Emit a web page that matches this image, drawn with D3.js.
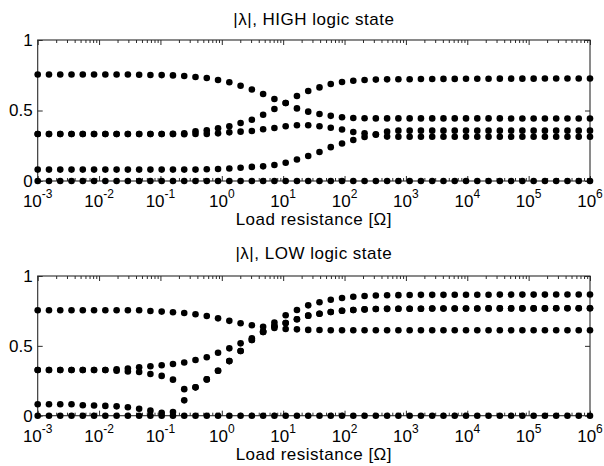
<!DOCTYPE html>
<html>
<head>
<meta charset="utf-8">
<script src="https://cdn.jsdelivr.net/npm/d3@7"></script>
<style>
  body { margin: 0; background: #fff; }
  text { font-family: "Liberation Sans", Arial, Helvetica, sans-serif; fill: #000; }
</style>
</head>
<body>
<svg id="fig" width="604" height="466"></svg>
<script>
// Load resistance sweep [Ω], 50 log-spaced samples from 1 mΩ to 1 MΩ
const resistance = [
  0.001, 0.001527, 0.002330, 0.003556, 0.005429, 0.008286, 0.01265, 0.01931, 0.02947, 0.04498,
  0.06866, 0.1048, 0.1600, 0.2442, 0.3728, 0.5690, 0.8685, 1.326, 2.024, 3.089,
  4.715, 7.197, 10.99, 16.77, 25.60, 39.07, 59.64, 91.03, 138.9, 212.1,
  323.7, 494.1, 754.3, 1151, 1758, 2683, 4095, 6251, 9541, 14563,
  22230, 33932, 51795, 79060, 120679, 184207, 281177, 429193, 655129, 1000000
];

// |λ| for the HIGH logic state
const highA = [
  0.755, 0.755, 0.755, 0.755, 0.755, 0.755, 0.755, 0.755, 0.755, 0.754,
  0.752, 0.751, 0.749, 0.745, 0.738, 0.730, 0.716, 0.700, 0.676, 0.649,
  0.617, 0.582, 0.553, 0.603, 0.638, 0.664, 0.688, 0.702, 0.711, 0.716,
  0.719, 0.721, 0.722, 0.722, 0.723, 0.723, 0.724, 0.724, 0.725, 0.725,
  0.725, 0.726, 0.726, 0.726, 0.726, 0.727, 0.727, 0.727, 0.727, 0.727
];
const highB = [
  0.333, 0.333, 0.333, 0.333, 0.333, 0.333, 0.333, 0.333, 0.333, 0.333,
  0.333, 0.333, 0.334, 0.338, 0.352, 0.359, 0.374, 0.388, 0.411, 0.434,
  0.470, 0.511, 0.553, 0.515, 0.492, 0.475, 0.462, 0.452, 0.447, 0.445,
  0.444, 0.444, 0.444, 0.444, 0.444, 0.444, 0.444, 0.444, 0.444, 0.444,
  0.444, 0.444, 0.443, 0.443, 0.443, 0.443, 0.443, 0.443, 0.443, 0.443
];
const highC = [
  0.333, 0.333, 0.333, 0.333, 0.333, 0.333, 0.333, 0.333, 0.333, 0.333,
  0.333, 0.333, 0.333, 0.332, 0.333, 0.334, 0.338, 0.345, 0.350, 0.355,
  0.367, 0.376, 0.388, 0.395, 0.395, 0.388, 0.378, 0.365, 0.348, 0.338,
  0.332, 0.350, 0.357, 0.357, 0.357, 0.357, 0.357, 0.357, 0.357, 0.357,
  0.357, 0.357, 0.357, 0.357, 0.357, 0.357, 0.357, 0.357, 0.357, 0.357
];
const highD = [
  0.081, 0.081, 0.081, 0.081, 0.081, 0.081, 0.081, 0.081, 0.081, 0.081,
  0.081, 0.081, 0.081, 0.081, 0.081, 0.083, 0.085, 0.089, 0.094, 0.100,
  0.104, 0.113, 0.129, 0.152, 0.177, 0.206, 0.240, 0.266, 0.291, 0.312,
  0.328, 0.315, 0.314, 0.314, 0.314, 0.314, 0.314, 0.314, 0.314, 0.314,
  0.314, 0.314, 0.314, 0.314, 0.314, 0.314, 0.314, 0.314, 0.314, 0.314
];
const highZero = [
  0, 0, 0, 0, 0, 0, 0, 0, 0, 0,
  0, 0, 0, 0, 0, 0, 0, 0, 0, 0,
  0, 0, 0, 0, 0, 0, 0, 0, 0, 0,
  0, 0, 0, 0, 0, 0, 0, 0, 0, 0,
  0, 0, 0, 0, 0, 0, 0, 0, 0, 0
];

// |λ| for the LOW logic state
const lowA = [
  0.755, 0.755, 0.755, 0.755, 0.755, 0.755, 0.755, 0.755, 0.755, 0.755,
  0.750, 0.745, 0.740, 0.735, 0.726, 0.714, 0.697, 0.679, 0.662, 0.647,
  0.637, 0.628, 0.621, 0.618, 0.614, 0.613, 0.612, 0.612, 0.612, 0.612,
  0.612, 0.612, 0.612, 0.612, 0.612, 0.612, 0.612, 0.612, 0.612, 0.612,
  0.612, 0.612, 0.612, 0.612, 0.612, 0.612, 0.612, 0.612, 0.612, 0.612
];
const lowB = [
  0.327, 0.327, 0.327, 0.327, 0.327, 0.327, 0.327, 0.333, 0.337, 0.346,
  0.354, 0.361, 0.370, 0.381, 0.399, 0.418, 0.451, 0.482, 0.518, 0.554,
  0.603, 0.666, 0.719, 0.757, 0.790, 0.812, 0.830, 0.843, 0.852, 0.857,
  0.860, 0.862, 0.863, 0.864, 0.865, 0.865, 0.865, 0.866, 0.866, 0.866,
  0.866, 0.867, 0.867, 0.867, 0.867, 0.867, 0.868, 0.868, 0.868, 0.868
];
const lowC = [
  0.327, 0.327, 0.327, 0.327, 0.327, 0.327, 0.327, 0.322, 0.316, 0.313,
  0.298, 0.285, 0.258, 0.190, 0.203, 0.260, 0.322, 0.391, 0.463, 0.542,
  0.600, 0.640, 0.664, 0.690, 0.716, 0.730, 0.742, 0.751, 0.757, 0.761,
  0.764, 0.765, 0.766, 0.766, 0.766, 0.767, 0.767, 0.767, 0.767, 0.767,
  0.768, 0.768, 0.768, 0.768, 0.768, 0.768, 0.769, 0.769, 0.769, 0.769
];
const lowD = [
  0.082, 0.082, 0.082, 0.082, 0.075, 0.073, 0.070, 0.067, 0.060, 0.050,
  0.036, 0.020, 0.026, 0.110, 0.203, 0.260, 0.322, 0.391, 0.463, 0.542,
  0.600, 0.640, 0.664, 0.690, 0.716, 0.730, 0.742, 0.751, 0.757, 0.761,
  0.764, 0.765, 0.766, 0.766, 0.766, 0.767, 0.767, 0.767, 0.767, 0.767,
  0.768, 0.768, 0.768, 0.768, 0.768, 0.768, 0.769, 0.769, 0.769, 0.769
];
const lowZero = [
  0, 0, 0, 0, 0, 0, 0, 0, 0, 0,
  0, 0, 0, 0, 0, 0, 0, 0, 0, 0,
  0, 0, 0, 0, 0, 0, 0, 0, 0, 0,
  0, 0, 0, 0, 0, 0, 0, 0, 0, 0,
  0, 0, 0, 0, 0, 0, 0, 0, 0, 0
];

// Axis annotation
const xDomain = [1e-3, 1e6];
const xTickExponents = [-3, -2, -1, 0, 1, 2, 3, 4, 5, 6];
const yTicks = [0, 0.5, 1];
const titleHigh = "|λ|, HIGH logic state";
const titleLow = "|λ|, LOW logic state";
const xLabelText = "Load resistance [Ω]";

const panels = [
  { title: titleHigh, series: [highZero, highD, highC, highB, highA],
    top: 40, bottom: 181, titleY: 25, tickLabelY: 206.5, xLabelY: 225 },
  { title: titleLow, series: [lowZero, lowD, lowC, lowB, lowA],
    top: 276, bottom: 415.7, titleY: 259, tickLabelY: 441.5, xLabelY: 460 }
];

const left = 37.7, right = 590;
const svg = d3.select("#fig");
const x = d3.scaleLog().domain(xDomain).range([left, right]);
const allTicks = x.ticks();
const isMajor = v => Math.abs(Math.log10(v) - Math.round(Math.log10(v))) < 1e-9;
const minorTicks = allTicks.filter(v => !isMajor(v));
const majorTicks = xTickExponents.map(e => Math.pow(10, e));
const axisColor = "#2b2b2b";
const fontSize = 17;

panels.forEach(p => {
  const y = d3.scaleLinear().domain([0, 1]).range([p.bottom, p.top]);
  const g = svg.append("g");

  // frame
  g.append("rect")
    .attr("x", left).attr("y", p.top)
    .attr("width", right - left).attr("height", p.bottom - p.top)
    .attr("fill", "none").attr("stroke", axisColor).attr("stroke-width", 1.1);

  const styleAxis = sel => {
    sel.select(".domain").remove();
    sel.selectAll(".tick line").attr("stroke", axisColor).attr("stroke-width", 1);
  };

  // inward ticks on bottom and top edges (minor and major)
  g.append("g").attr("transform", `translate(0,${p.bottom})`)
    .call(d3.axisBottom(x).tickValues(minorTicks).tickSize(-3).tickFormat(""))
    .call(styleAxis);
  g.append("g").attr("transform", `translate(0,${p.bottom})`)
    .call(d3.axisBottom(x).tickValues(majorTicks).tickSize(-5).tickFormat(""))
    .call(styleAxis);
  g.append("g").attr("transform", `translate(0,${p.top})`)
    .call(d3.axisTop(x).tickValues(minorTicks).tickSize(-3).tickFormat(""))
    .call(styleAxis);
  g.append("g").attr("transform", `translate(0,${p.top})`)
    .call(d3.axisTop(x).tickValues(majorTicks).tickSize(-5).tickFormat(""))
    .call(styleAxis);

  // y ticks on left (labelled) and right
  g.append("g").attr("transform", `translate(${left},0)`)
    .call(d3.axisLeft(y).tickValues(yTicks).tickSize(-5).tickPadding(5)
      .tickFormat(d => String(d)))
    .call(styleAxis)
    .call(sel => sel.selectAll("text")
      .attr("font-size", fontSize).attr("fill", "#000")
      .attr("font-family", "'Liberation Sans', Arial, sans-serif"));
  g.append("g").attr("transform", `translate(${right},0)`)
    .call(d3.axisRight(y).tickValues(yTicks).tickSize(-5).tickFormat(""))
    .call(styleAxis);

  // x tick labels as powers of ten
  const lbl = g.append("g").selectAll("text").data(xTickExponents).join("text")
    .attr("x", e => x(Math.pow(10, e)))
    .attr("y", p.tickLabelY)
    .attr("text-anchor", "middle")
    .attr("font-size", fontSize);
  lbl.append("tspan").text("10");
  lbl.append("tspan").attr("dy", -8.5).attr("font-size", 12).text(e => String(e));

  // eigenvalue magnitudes
  p.series.forEach(vals => {
    g.append("g").selectAll("circle").data(vals).join("circle")
      .attr("cx", (d, i) => x(resistance[i]))
      .attr("cy", d => y(d))
      .attr("r", 3.3)
      .attr("fill", "#000");
  });

  // title and axis label
  g.append("text")
    .attr("x", (left + right) / 2).attr("y", p.titleY)
    .attr("text-anchor", "middle").attr("font-size", fontSize)
    .attr("letter-spacing", 0.5)
    .text(p.title);
  g.append("text")
    .attr("x", (left + right) / 2).attr("y", p.xLabelY)
    .attr("text-anchor", "middle").attr("font-size", fontSize)
    .attr("letter-spacing", 0.5)
    .text(xLabelText);
});
</script>
</body>
</html>
